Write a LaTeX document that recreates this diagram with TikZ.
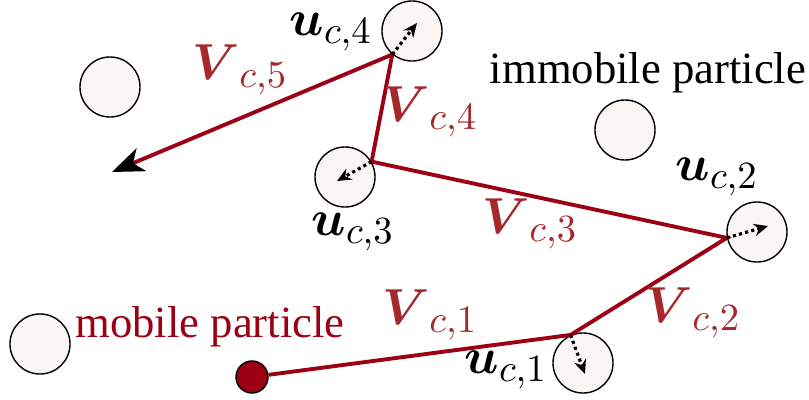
\documentclass[tikz,border=0pt]{standalone}
\usepackage{amsmath}
\usepackage[no-math]{fontspec}
\setmainfont{Liberation Serif}
\usetikzlibrary{arrows.meta}

\definecolor{pathred}{RGB}{155,0,20}
\definecolor{labelred}{RGB}{165,40,45}
\definecolor{grainfill}{RGB}{250,246,243}

\begin{document}
\begin{tikzpicture}[x=0.01cm,y=-0.01cm,
    grain/.style={circle,draw,thin,fill=grainfill,minimum size=0.6cm,inner sep=0pt},
    jump/.style={pathred,line width=1.1pt,line join=miter},
    dir/.style={line width=0.9pt,dash pattern=on 0.9pt off 0.9pt,-{Stealth[length=4pt,width=3.5pt]}},
    vlab/.style={labelred,font=\fontsize{15}{18}\selectfont},
    ulab/.style={font=\fontsize{15}{18}\selectfont},
    txt/.style={font=\fontsize{12.7}{15}\selectfont}]
  \useasboundingbox (0,0) rectangle (809,400);
  % particles
  \foreach \n/\x/\y in {a/110/87,b/625/130,c/40/344,g4/412/31,g3/345/177,g2/757/232,g1/583/363}
    \node[grain] (\n) at (\x,\y) {};
  \node[circle,draw,thin,fill=pathred,minimum size=0.32cm,inner sep=0pt] (mob) at (252,377) {};
  \coordinate (tip) at (112,172);
  % jumps
  \draw[jump,-{Stealth[black,length=9pt,width=7pt,inset=2.5pt]}] (mob) -- (g1.114) -- (g2.191) -- (g3.30) -- (g4.230) -- (tip);
  % directions
  \foreach \g/\a/\x/\y in {g1/114/585/374,g2/191/768/226,g3/30/337/181,g4/230/417/23}{
    \coordinate (e\g) at (\x,\y);
    \draw[dir] (\g.\a) -- (e\g);
  }
  % labels
  \foreach \i/\x/\y in {1/430/315,2/693/313,3/530/224,4/430/112,5/240/70}
    \node[vlab] (V\i) at (\x,\y) {$\boldsymbol{V}_{c,\i}$};
  \foreach \i/\x/\y in {1/506/370,2/717/177,3/353/232,4/331/32}
    \node[ulab] (u\i) at (\x,\y) {$\boldsymbol{u}_{c,\i}$};
  \node[txt] (imm) at (648,73) {immobile particle};
  \node[txt,pathred] (mobl) at (210,327) {mobile particle};
\end{tikzpicture}
\end{document}
